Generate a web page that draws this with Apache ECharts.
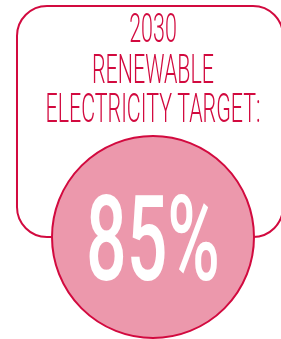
<!DOCTYPE html>
<html>
<head>
<meta charset="utf-8">
<script src="https://cdn.jsdelivr.net/npm/echarts@6/dist/echarts.min.js"></script>
<style>
html,body{margin:0;padding:0;background:#fff;}
#main{width:281px;height:339px;}
</style>
</head>
<body>
<div id="main"></div>
<script>
// 数据
var titleLines = ['2030', 'RENEWABLE', 'ELECTRICITY TARGET:'];
var targetValue = [85];
var valueSuffix = ['%'];

var RED = '#d20a3f';
var PINK = '#ec98ac';

var myChart = echarts.init(document.getElementById('main'));

// 用canvas量一下字宽，算横向压缩比例
var ctx = document.createElement('canvas').getContext('2d');
function measure(text, font){
	ctx.font = font;
	return ctx.measureText(text).width;
}
var titleFont = '300 41px Roboto';
var titleScale = 122 / measure(titleLines[1], titleFont);
var valueText = targetValue[0] + valueSuffix[0];
var valueFont = '500 118px Roboto';
var valueScale = 134 / measure(valueText, valueFont);

var lineY = [32, 73, 112];
var graphics = [
	{
		type: 'rect',
		z: 0,
		shape: {x: 17, y: 6, width: 266, height: 231, r: 30},
		style: {fill: '#fff', stroke: RED, lineWidth: 2}
	}
];
titleLines.forEach(function(t, i){
	graphics.push({
		type: 'text',
		z: 100,
		x: 153,
		y: lineY[i],
		scaleX: titleScale,
		style: {
			text: t,
			font: titleFont,
			fill: RED,
			textAlign: 'center',
			textVerticalAlign: 'middle'
		}
	});
});
graphics.push({
	type: 'text',
	z: 100,
	x: 153,
	y: 250,
	scaleX: valueScale,
	style: {
		text: valueText,
		font: valueFont,
		fill: '#fff',
		textAlign: 'center',
		textVerticalAlign: 'middle'
	}
});

var option = {
	animation: false,
	graphic: graphics,
	series: [
		{
			type: 'pie',
			z: 2,
			silent: true,
			center: [153, 237],
			radius: [0, 101],
			label: {show: false},
			itemStyle: {color: PINK, borderColor: RED, borderWidth: 2},
			data: targetValue.map(function(v){ return {value: v, name: titleLines[0]}; })
		}
	]
};
myChart.setOption(option);
</script>
</body>
</html>
